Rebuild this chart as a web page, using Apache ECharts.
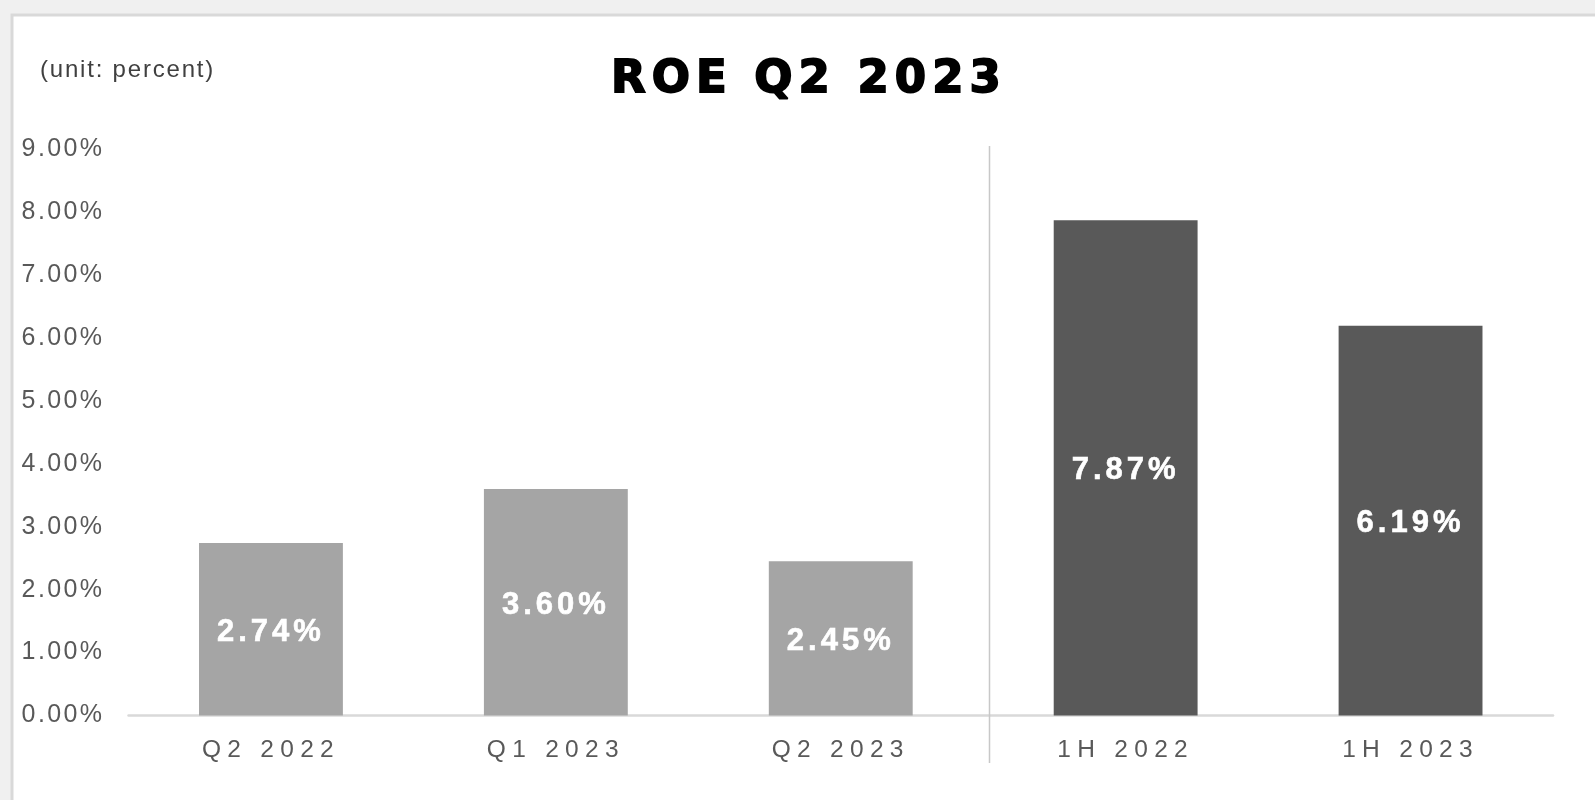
<!DOCTYPE html>
<html>
<head>
<meta charset="utf-8">
<title>ROE Q2 2023</title>
<script src="https://cdn.jsdelivr.net/npm/echarts@6/dist/echarts.min.js"></script>
<style>
  html, body { margin: 0; padding: 0; background: #f0f0f0; }
  #chart { width: 1595px; height: 800px; }
</style>
</head>
<body>
<div id="chart"></div>
<script>
// Return on equity by period, in percent
const categories = ['Q2 2022', 'Q1 2023', 'Q2 2023', '1H 2022', '1H 2023'];
const roeValues = [2.74, 3.60, 2.45, 7.87, 6.19];
// quarterly figures are light grey, half-year figures dark grey
const periodKinds = ['quarter', 'quarter', 'quarter', 'half', 'half'];
const yAxisMax = 9;
const yAxisStep = 1;

const kindColors = { quarter: '#a5a5a5', half: '#595959' };

// Wider character tracking for a few text sizes (canvas letterSpacing)
const trackingBySize = { '45px': '6px', '24px': '1.8px', '25px': '2.4px', '24.5px': '6.3px', '31px': '4px' };
['fillText', 'strokeText'].forEach(function (name) {
  const original = CanvasRenderingContext2D.prototype[name];
  CanvasRenderingContext2D.prototype[name] = function () {
    if ('letterSpacing' in this) {
      const m = /(\d+(?:\.\d+)?px)/.exec(this.font);
      this.letterSpacing = (m && trackingBySize[m[1]]) || '0px';
    }
    return original.apply(this, arguments);
  };
});

const chart = echarts.init(document.getElementById('chart'), null, { renderer: 'canvas' });

chart.setOption({
  animation: false,
  backgroundColor: 'transparent',
  title: [
    {
      text: 'ROE Q2 2023',
      left: 606,
      top: 53,
      textStyle: {
        fontFamily: 'DejaVu Sans',
        fontWeight: 'bold',
        fontSize: 45,
        color: '#000',
        textBorderColor: '#000',
        textBorderWidth: 1.8
      }
    },
    {
      text: '(unit: percent)',
      left: 35,
      top: 53,
      textStyle: {
        fontFamily: 'Liberation Sans',
        fontWeight: 'normal',
        fontSize: 24,
        color: '#404040'
      }
    }
  ],
  graphic: [
    {
      id: 'panel',
      type: 'rect',
      z: -10,
      silent: true,
      shape: { x: 12, y: 15, width: 1600, height: 800 },
      style: { fill: '#ffffff', stroke: '#d9d9d9', lineWidth: 3 }
    }
  ],
  grid: {
    left: 128.5,
    right: 42,
    top: 149,
    bottom: 84.5,
    containLabel: false
  },
  xAxis: {
    type: 'category',
    data: categories,
    axisTick: { show: false },
    axisLine: { show: true, lineStyle: { color: '#d9d9d9', width: 2.5 } },
    axisLabel: {
      margin: 22,
      fontFamily: 'Liberation Sans',
      fontSize: 24.5,
      color: '#595959'
    },
    splitLine: { show: false }
  },
  yAxis: {
    type: 'value',
    min: 0,
    max: yAxisMax,
    interval: yAxisStep,
    axisLine: { show: false },
    axisTick: { show: false },
    splitLine: { show: false },
    axisLabel: {
      margin: 24,
      fontFamily: 'Liberation Sans',
      fontSize: 25,
      color: '#595959',
      formatter: function (v) { return v.toFixed(2) + '%'; }
    }
  },
  series: [
    {
      type: 'bar',
      data: roeValues,
      barWidth: '50.5%',
      itemStyle: {
        color: function (p) { return kindColors[periodKinds[p.dataIndex]]; }
      },
      label: {
        show: true,
        position: 'inside',
        offset: [0, 3],
        fontFamily: 'Liberation Sans',
        fontWeight: 'bold',
        fontSize: 31,
        color: '#ffffff',
        textBorderColor: '#ffffff',
        textBorderWidth: 0.6,
        formatter: function (p) { return p.value.toFixed(2) + '%'; }
      }
    }
  ]
});

// Divider between the quarterly and half-year groups
const xQuarterEnd = chart.convertToPixel({ xAxisIndex: 0 }, categories[2]);
const xHalfStart = chart.convertToPixel({ xAxisIndex: 0 }, categories[3]);
const dividerX = Math.round((xQuarterEnd + xHalfStart) / 2 + 5.5) + 0.5;
const dividerTop = chart.convertToPixel({ yAxisIndex: 0 }, yAxisMax) - 3;

chart.setOption({
  graphic: [
    {
      id: 'divider',
      type: 'line',
      silent: true,
      z: 5,
      shape: { x1: dividerX, y1: dividerTop, x2: dividerX, y2: 763 },
      style: { stroke: '#c8c8c8', lineWidth: 1.5 }
    }
  ]
});
</script>
</body>
</html>
